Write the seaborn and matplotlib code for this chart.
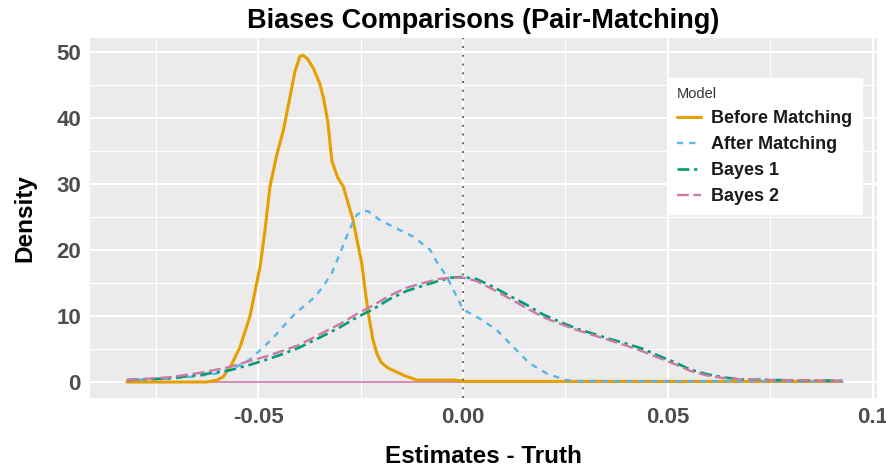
import matplotlib
matplotlib.use("Agg")
import matplotlib.pyplot as plt
from matplotlib.ticker import FixedLocator
import seaborn as sns
import pandas as pd

# ---------------- data ----------------
models = ["Before Matching", "After Matching", "Bayes 1", "Bayes 2"]

before_x = [-0.082, -0.070, -0.0625, -0.060, -0.0585, -0.0565, -0.0544, -0.052, -0.0495,
            -0.0483, -0.0471, -0.0454, -0.0438, -0.0422, -0.0410, -0.0398, -0.0391, -0.0380,
            -0.0365, -0.0350, -0.0341, -0.0330, -0.0320, -0.0306, -0.0292, -0.0280, -0.0268,
            -0.0257, -0.0247, -0.0239, -0.0231, -0.0220, -0.0210, -0.0200, -0.0185, -0.0165,
            -0.0140, -0.0113, -0.0020, 0.0, 0.092]
before_y = [0.0, 0.0, 0.0, 0.3, 0.8, 2.6, 5.3, 9.9, 17.5,
            23.0, 29.6, 34.5, 38.2, 43.2, 47.0, 49.3, 49.5, 49.0,
            47.5, 45.3, 43.2, 39.5, 33.5, 31.0, 29.6, 27.0, 24.5,
            21.0, 18.0, 14.0, 10.4, 6.5, 4.3, 3.0, 2.2, 1.6,
            0.9, 0.3, 0.3, 0.1, 0.1]

after_x = [-0.082, -0.072, -0.066, -0.061, -0.0576, -0.0544, -0.052, -0.0495, -0.0463,
           -0.043, -0.0406, -0.0381, -0.0360, -0.0341, -0.0320, -0.0300, -0.0284, -0.0270,
           -0.0259, -0.0243, -0.0230, -0.0202, -0.0170, -0.0121, -0.0080, -0.0064, -0.0040,
           -0.0007, 0.0, 0.0041, 0.0082, 0.0123, 0.0163, 0.0204, 0.0245, 0.0265, 0.092]
after_y = [0.3, 0.5, 0.8, 1.2, 1.6, 2.6, 3.4, 4.8, 6.7,
           9.0, 10.6, 11.8, 13.0, 14.5, 16.5, 19.5, 22.0, 24.0,
           25.3, 26.0, 25.8, 24.5, 23.5, 22.0, 20.0, 18.2, 16.0,
           11.9, 11.0, 9.6, 7.9, 5.3, 2.8, 1.3, 0.4, 0.15, 0.1]

bayes_x = [-0.082, -0.072, -0.064, -0.0568, -0.052, -0.0479, -0.0446, -0.0400, -0.0341,
           -0.0300, -0.0259, -0.0220, -0.0178, -0.0137, -0.0097, -0.0060, -0.0030, 0.0,
           0.0033, 0.0074, 0.0115, 0.0155, 0.0196, 0.0237, 0.0277, 0.0318, 0.0359, 0.0399,
           0.0440, 0.0472, 0.0513, 0.0554, 0.0594, 0.0635, 0.0676, 0.0757, 0.0928]
bayes1_y = [0.3, 0.55, 1.1, 1.8, 2.6, 3.4, 4.1, 5.2, 7.0,
            8.3, 9.8, 11.0, 12.6, 13.8, 14.6, 15.3, 15.8, 15.9,
            15.6, 14.4, 13.0, 11.7, 10.2, 9.1, 8.1, 7.3, 6.5, 5.8,
            5.0, 4.1, 3.1, 1.9, 1.2, 0.7, 0.4, 0.3, 0.2]
bayes2_y = [0.3, 0.7, 1.4, 2.3, 3.2, 3.9, 4.6, 5.6, 7.5,
            8.8, 10.3, 11.6, 13.1, 14.3, 15.0, 15.6, 15.8, 15.8,
            15.3, 14.0, 12.6, 11.2, 9.8, 8.8, 7.9, 7.1, 6.3, 5.5,
            4.6, 3.8, 2.8, 1.7, 1.0, 0.6, 0.4, 0.3, 0.2]

x_ticks = [-0.05, 0.0, 0.05, 0.10]
x_tick_labels = ["-0.05", "0.00", "0.05", "0.1"]
y_ticks = [0, 10, 20, 30, 40, 50]

colors = {"Before Matching": "#E69F00", "After Matching": "#56B4E9",
          "Bayes 1": "#009E73", "Bayes 2": "#CC79A7"}
styles = {"Before Matching": "-", "After Matching": (0, (2.6, 2.6)),
          "Bayes 1": (0, (4.5, 1.8, 1.2, 1.8)), "Bayes 2": (0, (5, 2))}
widths = {"Before Matching": 2.2, "After Matching": 1.7, "Bayes 1": 1.9, "Bayes 2": 1.7}

series = {
    "Before Matching": pd.DataFrame({"x": before_x, "y": before_y}),
    "After Matching": pd.DataFrame({"x": after_x, "y": after_y}),
    "Bayes 1": pd.DataFrame({"x": bayes_x, "y": bayes1_y}),
    "Bayes 2": pd.DataFrame({"x": bayes_x, "y": bayes2_y}),
}

# ---------------- style ----------------
sns.set_theme(style="darkgrid", rc={
    "axes.facecolor": "#EBEBEB",
    "grid.color": "white",
    "axes.edgecolor": "white",
})
plt.rcParams["font.family"] = ["Liberation Sans", "DejaVu Sans"]

fig = plt.figure(figsize=(8.87, 4.68), dpi=100)
fig.patch.set_facecolor("white")
ax = fig.add_axes([90 / 887, 1 - 398 / 468, 787 / 887, 360 / 468])

# baseline of the last density polygon
ax.plot([min(bayes_x), max(bayes_x)], [0, 0], color=colors["Bayes 2"], lw=1.2, zorder=2)

for m in models:
    sns.lineplot(data=series[m], x="x", y="y", ax=ax, color=colors[m],
                 linestyle=styles[m], linewidth=widths[m], label=m, zorder=3)

ax.axvline(0, color="#666666", linestyle=(0, (1, 3.5)), linewidth=1.4, zorder=4)

ax.set_xlim(-0.091, 0.101)
ax.set_ylim(-2.42, 52.1)
ax.xaxis.set_major_locator(FixedLocator(x_ticks))
ax.set_xticklabels(x_tick_labels)
ax.yaxis.set_major_locator(FixedLocator(y_ticks))
ax.xaxis.set_minor_locator(FixedLocator([-0.075, -0.025, 0.025, 0.075]))
ax.yaxis.set_minor_locator(FixedLocator([5, 15, 25, 35, 45]))
ax.grid(which="major", color="white", linewidth=1.5)
ax.grid(which="minor", color="white", linewidth=0.8)
for s in ax.spines.values():
    s.set_visible(False)

ax.tick_params(axis="both", which="major", length=3.5, width=1, color="#333333",
               labelsize=16, labelcolor="#4D4D4D", pad=3)
ax.tick_params(axis="both", which="minor", length=0)
for lab in ax.get_xticklabels() + ax.get_yticklabels():
    lab.set_fontweight("bold")

ax.set_xlabel("Estimates - Truth", fontsize=17.5, fontweight="bold", color="black", labelpad=12)
ax.set_ylabel("Density", fontsize=17.5, fontweight="bold", color="black", labelpad=14)
ax.set_title("Biases Comparisons (Pair-Matching)", fontsize=19.5, fontweight="bold",
             color="black", pad=7)

leg = ax.legend(title="Model", loc="upper left", bbox_to_anchor=(0.7345, 0.889),
                borderaxespad=0, frameon=True, facecolor="white", edgecolor="white",
                framealpha=1, fontsize=13, title_fontsize=10.5, handlelength=1.3,
                handletextpad=0.6, labelspacing=0.5, borderpad=0.5, alignment="left",
                fancybox=False)
for t in leg.get_texts():
    t.set_fontweight("bold")
    t.set_color("#1a1a1a")
leg.get_title().set_color("#333333")

fig.savefig("out.png", dpi=100)
